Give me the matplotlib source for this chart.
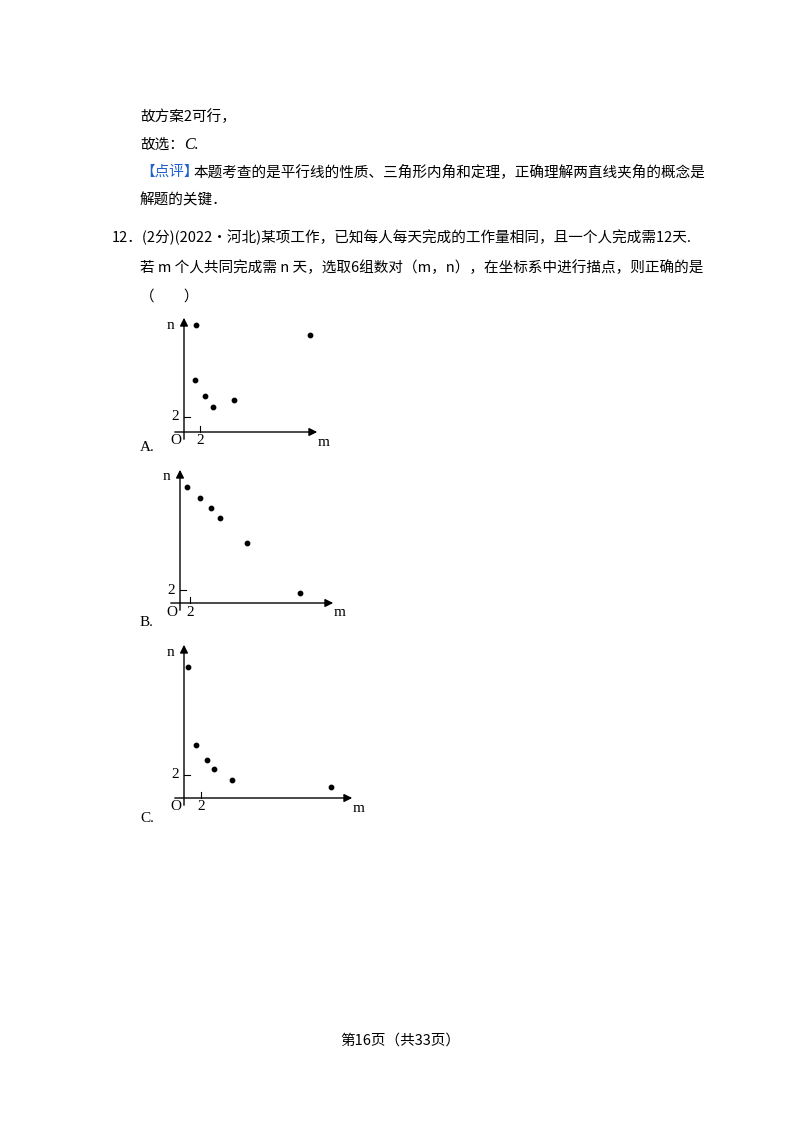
import matplotlib
matplotlib.use("Agg")
import matplotlib.pyplot as plt

plt.rcParams['font.family'] = ['Noto Sans CJK SC', 'DejaVu Sans']
W, H = 800, 1132

# data: (m, n) pairs for each option
mA = [1.5, 15.75, 1.4, 2.6, 3.6, 6.25]
nA = [14.3, 13.0, 6.9, 4.8, 3.3, 4.3]
mB = [1.4, 4.0, 6.2, 8.0, 13.4, 24.0]
nB = [17.8, 16.2, 14.6, 13.1, 9.2, 1.5]
mC = [0.5, 1.4, 2.7, 3.5, 5.6, 17.3]
nC = [11.4, 4.6, 3.3, 2.5, 1.6, 1.0]

fig = plt.figure(figsize=(8, 11.32), dpi=100)
fig.patch.set_facecolor('white')

def T(x, y, s, **kw):
    kw.setdefault('fontsize', 10.5)
    fig.text(x / W, 1 - y / H, s, va='center', ha=kw.pop('ha', 'left'), **kw)

T(140, 117, "故方案2可行，")
T(140, 145, "故选：")
T(184, 145, "C.", style='italic', family='Liberation Serif', fontsize=11.5)
T(140, 172, "【点评】", color='#1f5fd0')
T(194, 172, "本题考查的是平行线的性质、三角形内角和定理，正确理解两直线夹角的概念是")
T(140, 200, "解题的关键．")
T(112, 237, "12．(2分)(2022•河北)某项工作，已知每人每天完成的工作量相同，且一个人完成需12天.")
T(140, 268, "若 m 个人共同完成需 n 天，选取6组数对（m，n），在坐标系中进行描点，则正确的是")
T(140, 297, "（　　）")
T(400, 1041, "第16页（共33页）", ha='center')

def chart(m, n, ox, oy, sx, sy, xend, ytop, letter, lab):
    L, R, Tp, B = 130, 380, ytop - 20, oy + 30
    ax = fig.add_axes([L / W, 1 - B / H, (R - L) / W, (B - Tp) / H])
    ax.set_xlim((L - ox) / sx, (R - ox) / sx)
    ax.set_ylim((oy - B) / sy, (oy - Tp) / sy)
    ax.axis('off')
    xe = (xend - ox) / sx
    yt = (oy - ytop) / sy
    ax.annotate('', xy=(xe, 0), xytext=(-12 / sx, 0),
                arrowprops=dict(arrowstyle='-|>', color='black', lw=1, mutation_scale=12))
    ax.annotate('', xy=(0, yt), xytext=(0, -10 / sy),
                arrowprops=dict(arrowstyle='-|>', color='black', lw=1, mutation_scale=12))
    ax.plot([2, 2], [0, 6 / sy], color='black', lw=0.8)
    ax.plot([0, 6 / sx], [2, 2], color='black', lw=0.8)
    ax.scatter(m, n, s=10, color='black', zorder=3)
    f = 'Liberation Serif'
    ax.text(-8 / sx, -9 / sy, 'O', ha='center', va='center', family=f, fontsize=11)
    ax.text(2, -9 / sy, '2', ha='center', va='center', family=f, fontsize=11)
    ax.text(-9 / sx, 2, '2', ha='center', va='center', family=f, fontsize=11)
    ax.text(-14 / sx, yt - 10 / sy, 'n', ha='center', va='center', family=f, fontsize=11)
    ax.text(xe + 4 / sx, -10 / sy, 'm', ha='center', va='center', family=f, fontsize=11)
    T(lab[0], lab[1], letter, family=f, fontsize=11)

chart(mA, nA, 184, 432, 8, 7.5, 320, 315, 'A.', (140, 448))
chart(mB, nB, 180, 603, 5, 6.5, 336, 467, 'B.', (140, 623))
chart(mC, nC, 184, 798, 8.5, 11.5, 355, 642, 'C.', (140, 818))

fig.savefig('out.png', dpi=100, facecolor='white')
